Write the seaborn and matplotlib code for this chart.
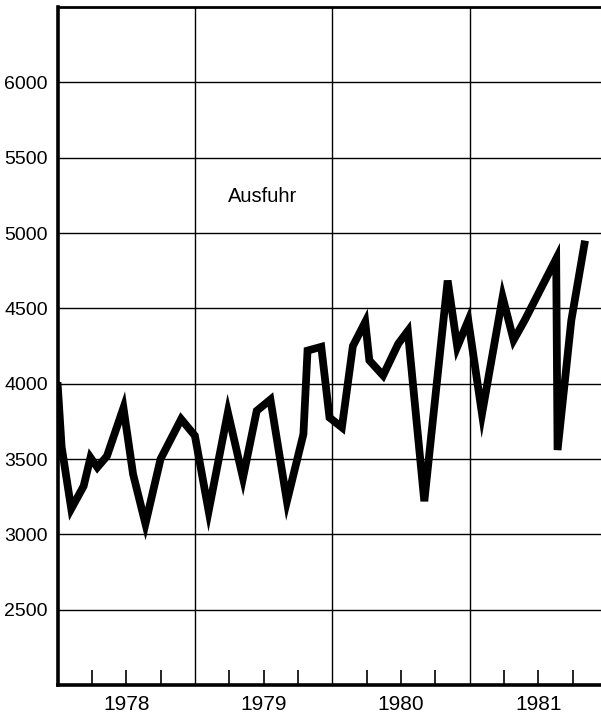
import numpy as np
import pandas as pd
import seaborn as sns
import matplotlib.pyplot as plt


# Ausfuhr (exports): x in decimal years
zeit = [1978.00, 1978.03, 1978.10, 1978.19, 1978.24, 1978.29, 1978.36,
        1978.48, 1978.55, 1978.64, 1978.75, 1978.90, 1979.00, 1979.10,
        1979.24, 1979.35, 1979.45, 1979.55, 1979.67, 1979.79, 1979.82,
        1979.92, 1979.98, 1980.07, 1980.15, 1980.24, 1980.27, 1980.37,
        1980.48, 1980.55, 1980.67, 1980.84, 1980.91, 1980.99, 1981.09,
        1981.24, 1981.32, 1981.40, 1981.63, 1981.64, 1981.74, 1981.84]
ausfuhr = [4010, 3580, 3170, 3320, 3510, 3445, 3520,
           3840, 3400, 3070, 3500, 3765, 3655, 3155,
           3810, 3375, 3820, 3895, 3220, 3665, 4220,
           4245, 3775, 3710, 4250, 4410, 4155, 4055,
           4265, 4350, 3220, 4685, 4245, 4420, 3800,
           4575, 4290, 4420, 4830, 3560, 4420, 4950]

jahre = ['1978', '1979', '1980', '1981']
y_ticks = [2500, 3000, 3500, 4000, 4500, 5000, 5500, 6000]

df = pd.DataFrame({'zeit': zeit, 'ausfuhr': ausfuhr})

sns.set_style('white')
plt.rcParams['font.family'] = ['Liberation Sans', 'DejaVu Sans']
plt.rcParams['text.color'] = 'black'
plt.rcParams['xtick.color'] = 'black'
plt.rcParams['ytick.color'] = 'black'
plt.rcParams['xtick.labelcolor'] = 'black'
plt.rcParams['ytick.labelcolor'] = 'black'

fig = plt.figure(figsize=(6.01, 7.18), dpi=100)
ax = fig.add_axes([0.0957, 0.046, 0.9143, 0.944])

# grid first so the curve sits on top
for y in y_ticks:
    ax.axhline(y, color='black', linewidth=1.0, zorder=1)
for yr in [1979, 1980, 1981]:
    ax.axvline(yr, color='black', linewidth=1.0, zorder=1)

sns.lineplot(data=df, x='zeit', y='ausfuhr', sort=False, color='black',
             linewidth=5.6, ax=ax, zorder=3)
ax.lines[-1].set_solid_joinstyle('miter')
ax.lines[-1].set_solid_capstyle('butt')

ax.set_xlim(1978, 1982)
ax.set_ylim(2000, 6500)

# quarter ticks pointing inward, year labels in the middle of each year
q_ticks = [y + q for y in range(1978, 1982) for q in (0.25, 0.5, 0.75)]
q_labels = [jahre[i // 3] if i % 3 == 1 else '' for i in range(len(q_ticks))]
ax.set_xticks(q_ticks)
ax.set_xticklabels(q_labels, fontsize=15, color='black')
ax.tick_params(axis='x', direction='in', length=11, width=1.2, pad=7,
               color='black', bottom=True)

ax.set_yticks(y_ticks)
ax.set_yticklabels([str(v) for v in y_ticks], fontsize=14, color='black')
ax.tick_params(axis='y', length=0, pad=7)

ax.set_xlabel('')
ax.set_ylabel('')

for side in ['left', 'bottom']:
    ax.spines[side].set_linewidth(2.6)
ax.spines['top'].set_linewidth(2.0)
ax.spines['right'].set_linewidth(2.0)
for s in ax.spines.values():
    s.set_color('black')

ax.text(1979.24, 5240, 'Ausfuhr', fontsize=14.5, va='center', ha='left',
        color='black')

fig.savefig('out.png', dpi=100)
